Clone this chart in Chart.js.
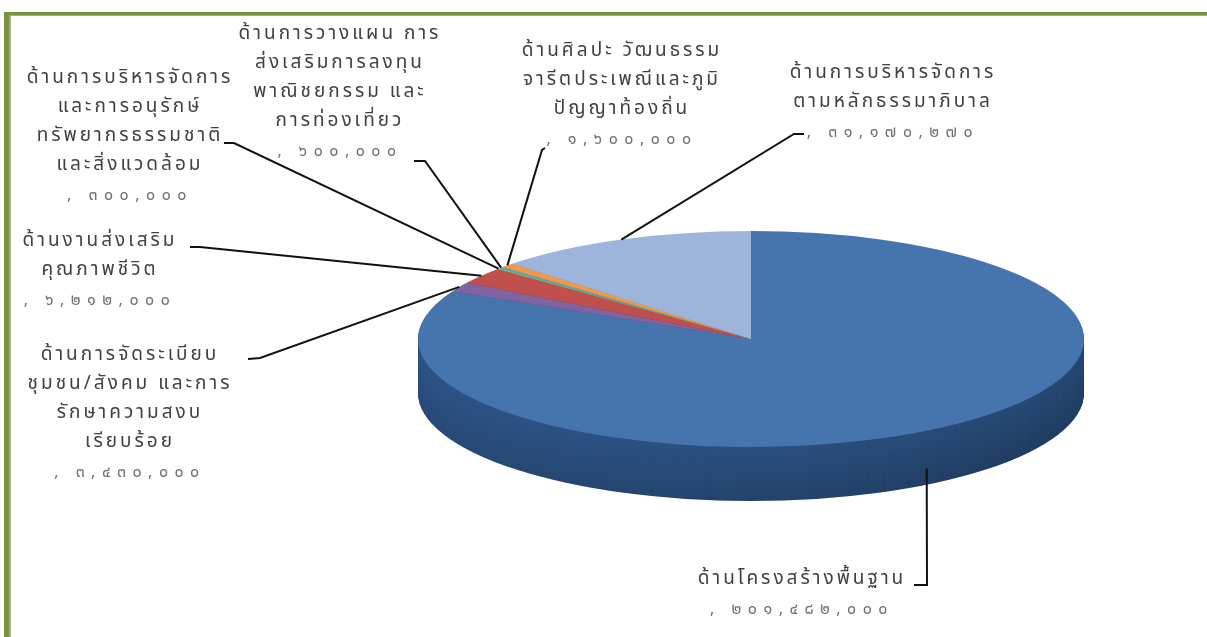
<!DOCTYPE html>
<html lang="th">
<head>
    <meta charset="UTF-8">
    <title>งบประมาณแยกตามด้าน</title>
    <script src="https://cdn.jsdelivr.net/npm/chart.js"></script>
    <style>
        body {
            margin: 0;
            padding: 0;
            background-color: #fff;
            font-family: "Noto Sans Thai", "Noto Sans", "DejaVu Sans", sans-serif;
        }
        .page {
            position: relative;
            width: 1207px;
            height: 637px;
            overflow: hidden;
        }
        .frame {
            position: absolute;
            left: 4px;
            top: 12px;
            right: -10px;
            bottom: -10px;
            border-left: 5px solid #77933c;
            border-top: 3px solid #77933c;
        }
        .frame::after {
            content: '';
            position: absolute;
            left: 0;
            top: 0;
            right: 0;
            bottom: 0;
            border-left: 2px solid #a6a6a6;
            border-top: 1px solid #a6a6a6;
        }
        canvas {
            position: absolute;
            left: 0;
            top: 0;
        }
        .lbl {
            position: absolute;
            text-align: center;
            white-space: nowrap;
            color: #404040;
            font-size: 19px;
            letter-spacing: 3px;
            line-height: 29px;
            transform: translateX(-50%);
        }
        .lbl .num {
            color: #707070;
            font-size: 16px;
            letter-spacing: 6.5px;
            line-height: 33px;
        }
    </style>
</head>
<body>
    <div class="page" id="page">
        <div class="frame"></div>
        <canvas id="pie" width="1207" height="637"></canvas>
    </div>

    <script>
        // ข้อมูลงบประมาณ (บาท)
        const categories = [
            ['ด้านโครงสร้างพื้นฐาน'],
            ['ด้านการจัดระเบียบ', 'ชุมชน/สังคม และการ', 'รักษาความสงบ', 'เรียบร้อย'],
            ['ด้านงานส่งเสริม', 'คุณภาพชีวิต'],
            ['ด้านการบริหารจัดการ', 'และการอนุรักษ์', 'ทรัพยากรธรรมชาติ', 'และสิ่งแวดล้อม'],
            ['ด้านการวางแผน การ', 'ส่งเสริมการลงทุน', 'พาณิชยกรรม และ', 'การท่องเที่ยว'],
            ['ด้านศิลปะ วัฒนธรรม', 'จารีตประเพณีและภูมิ', 'ปัญญาท้องถิ่น'],
            ['ด้านการบริหารจัดการ', 'ตามหลักธรรมาภิบาล']
        ];
        const values = [201482000, 3430000, 6212000, 300000, 600000, 1600000, 31170270];
        const topColors = ['#4674ad', '#8064a2', '#c0504d', '#9bbb59', '#4bacc6', '#f79646', '#9db5db'];
        const sideColors = ['#30598f', '#5a4578', '#8c3432', '#6f8a3c', '#2f7f95', '#b86a2c', '#7088ad'];

        // ตำแหน่งป้ายกำกับ (จุดกึ่งกลาง x, ขอบบน y) และจุดเริ่มเส้นชี้
        const labelPos = [
            { x: 802, y: 564, line: [[914, 585], [927, 585]] },
            { x: 130, y: 340, line: [[248, 359], [260, 358]] },
            { x: 100, y: 226, line: [[190, 247], [200, 247]] },
            { x: 130, y: 63, line: [[224, 143], [234, 143]] },
            { x: 340, y: 19, line: [[414, 161], [425, 161]] },
            { x: 622, y: 36, line: [[545, 148], [542, 150]] },
            { x: 893, y: 58, line: [[804, 134], [794, 134]] }
        ];

        // รูปวงรีของพายสามมิติ
        const ELL = { cx: 751, cy: 339, rx: 333, ry: 108, depth: 54 };

        const thaiDigits = '๐๑๒๓๔๕๖๗๘๙';
        function toThai(n) {
            return n.toLocaleString('en-US').replace(/[0-9]/g, d => thaiDigits[+d]);
        }

        // วางป้ายกำกับ
        const page = document.getElementById('page');
        categories.forEach((lines, i) => {
            const div = document.createElement('div');
            div.className = 'lbl';
            div.style.left = labelPos[i].x + 'px';
            div.style.top = labelPos[i].y + 'px';
            div.innerHTML = lines.map(t => '<div>' + t + '</div>').join('') +
                '<div class="num">, ' + toThai(values[i]) + '</div>';
            page.appendChild(div);
        });

        const pie3d = {
            id: 'pie3d',
            beforeDatasetsDraw(chart) {
                const ctx = chart.ctx;
                const arcs = chart.getDatasetMeta(0).data;
                const { x, y, outerRadius: R } = arcs[0];
                const sx = ELL.rx / R, sy = ELL.ry / R;
                // ผนังด้านข้าง
                for (let d = ELL.depth; d >= 1; d--) {
                    ctx.save();
                    ctx.translate(ELL.cx, ELL.cy + d);
                    ctx.scale(sx, sy);
                    ctx.translate(-x, -y);
                    const k = d / ELL.depth;
                    arcs.forEach((arc, i) => {
                        ctx.beginPath();
                        ctx.moveTo(x, y);
                        ctx.arc(x, y, R, arc.startAngle, arc.endAngle);
                        ctx.closePath();
                        ctx.fillStyle = sideColors[i];
                        ctx.fill();
                    });
                    // เงาด้านขวาให้เข้มกว่า
                    const g = ctx.createLinearGradient(x - R, 0, x + R, 0);
                    g.addColorStop(0, 'rgba(0,0,0,' + (0.05 + 0.12 * k).toFixed(3) + ')');
                    g.addColorStop(0.6, 'rgba(0,0,0,' + (0.12 + 0.15 * k).toFixed(3) + ')');
                    g.addColorStop(1, 'rgba(0,0,0,' + (0.2 + 0.15 * k).toFixed(3) + ')');
                    ctx.fillStyle = g;
                    ctx.beginPath();
                    ctx.arc(x, y, R, 0, Math.PI * 2);
                    ctx.fill();
                    ctx.restore();
                }
                // หน้าบนของพาย
                ctx.save();
                ctx.translate(ELL.cx, ELL.cy);
                ctx.scale(sx, sy);
                ctx.translate(-x, -y);
            },
            afterDatasetsDraw(chart) {
                const ctx = chart.ctx;
                ctx.restore();
                const arcs = chart.getDatasetMeta(0).data;
                // เส้นชี้ป้ายกำกับ
                ctx.save();
                ctx.strokeStyle = '#111';
                ctx.lineWidth = 2;
                arcs.forEach((arc, i) => {
                    const m = (arc.startAngle + arc.endAngle) / 2;
                    const px = ELL.cx + Math.cos(m) * ELL.rx;
                    let py = ELL.cy + Math.sin(m) * ELL.ry;
                    if (Math.sin(m) > 0.3) py += ELL.depth * 0.7;
                    const l = labelPos[i].line;
                    ctx.beginPath();
                    ctx.moveTo(l[0][0], l[0][1]);
                    ctx.lineTo(l[1][0], l[1][1]);
                    ctx.lineTo(px, py);
                    ctx.stroke();
                });
                ctx.restore();
            }
        };

        new Chart(document.getElementById('pie'), {
            type: 'pie',
            data: {
                labels: categories,
                datasets: [{
                    data: values,
                    backgroundColor: topColors,
                    borderWidth: 0,
                    clip: false
                }]
            },
            options: {
                responsive: false,
                animation: false,
                events: [],
                plugins: {
                    legend: { display: false },
                    tooltip: { enabled: false }
                }
            },
            plugins: [pie3d]
        });
    </script>
</body>
</html>
